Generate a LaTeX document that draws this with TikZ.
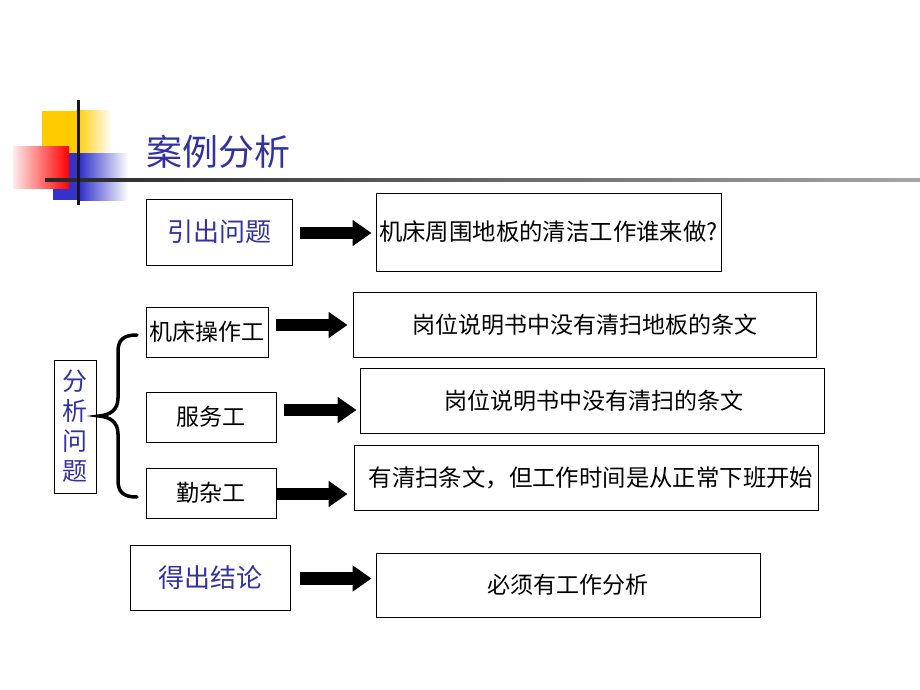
\documentclass[tikz,border=0pt]{standalone}
\usepackage{fontspec}
\newfontfamily\cjk{Noto Sans CJK SC}
\usetikzlibrary{arrows.meta,calc}
\definecolor{tblue}{RGB}{51,51,160}
\definecolor{decoyellow}{RGB}{255,204,0}
\definecolor{decoblue}{RGB}{51,51,204}
\definecolor{decored}{RGB}{255,0,0}
\begin{document}
\begin{tikzpicture}[x=1pt,y=-1pt,
  box/.style={draw, line width=0.9pt, inner sep=0pt, font=\cjk\fontsize{23}{27}\selectfont},
  bigbox/.style={box, font=\cjk\fontsize{23.4}{27}\selectfont},
  bluebox/.style={box, text=tblue, font=\cjk\fontsize{26}{30}\selectfont},
  blk/.style={line width=12.5pt, -{Triangle[length=19pt,width=25pt]}},
  bracestyle/.style={line width=3.5pt, line cap=round}
]
\useasboundingbox (0,0) rectangle (920,690);
\fill[white] (0,0) rectangle (920,690);

% decoration
\fill[decoyellow] (42,111) rectangle (76,153);
\shade[left color=decoyellow, right color=white] (76,111) rectangle (112,153);
\fill[decoblue] (53,153) rectangle (80,200);
\shade[left color=decoblue, right color=white] (80,153) rectangle (128,200);
\shade[left color=decored!8!white, right color=decored] (13,146) rectangle (69,188);
\shade[left color=black!85, right color=black!35] (45,178.5) rectangle (920,181.5);
\fill[black!90] (76.5,100) rectangle (79.5,205);

% title
\node[font=\cjk\fontsize{36}{40}\selectfont, text=tblue] (title) at (218,152) {案例分析};

% row 1
\node[bluebox, minimum width=146pt, minimum height=66pt] (q1) at (219,232) {引出问题};
\node[bigbox, minimum width=345pt, minimum height=78pt] (a1) at (548.5,232) {机床周围地板的清洁工作谁来做?};

% analysis
\node[box, minimum width=122pt, minimum height=50pt] (w1) at (207,332) {机床操作工};
\node[box, minimum width=463pt, minimum height=65pt] (r1) at (584.5,324.5) {岗位说明书中没有清扫地板的条文};
\node[box, minimum width=130pt, minimum height=50pt] (w2) at (211,417) {服务工};
\node[box, minimum width=464pt, minimum height=65pt] (r2) at (592,400.5) {\hspace{4pt}岗位说明书中没有清扫的条文};
\node[box, minimum width=130pt, minimum height=50pt] (w3) at (211,493) {勤杂工};
\node[bigbox, minimum width=464pt, minimum height=65pt] (r3) at (586,477.5) {\hspace{10pt}有清扫条文，但工作时间是从正常下班开始};
\node[draw, line width=0.9pt, inner sep=0pt, minimum width=42pt, minimum height=133pt, text=tblue, align=center,
  font=\cjk\fontsize{25}{30}\selectfont] (fx) at (75,426.5) {分\\析\\问\\题};

% conclusion
\node[bluebox, minimum width=160pt, minimum height=65pt] (c1) at (210,577.5) {得出结论};
\node[box, minimum width=384pt, minimum height=64pt] (c2) at (568,585) {必须有工作分析};

% arrows
\draw[blk] ($(q1.east)+(8,1)$) -- ($(a1.west |- q1.east)+(-4,1)$);
\draw[blk] ($(w1.east)+(8,-7)$) -- ($(r1.west |- w1.east)+(-5,-7)$);
\draw[blk] ($(w2.east)+(8,-7)$) -- ($(r2.west |- w2.east)+(-3,-7)$);
\draw[blk] ($(w3.east)+(0,1)$) -- ($(r3.west |- w3.east)+(-6,1)$);
\draw[blk] ($(c1.east)+(10,1)$) -- ($(c2.west |- c1.east)+(-4,1)$);

% brace
\draw[bracestyle] (137,335) .. controls (123,335) and (118,340) .. (118,352) -- (118,398)
  .. controls (118,410) and (110,415) .. (99,416)
  .. controls (110,417) and (118,422) .. (118,434) -- (118,480)
  .. controls (118,492) and (123,497) .. (137,497);
\end{tikzpicture}
\end{document}
